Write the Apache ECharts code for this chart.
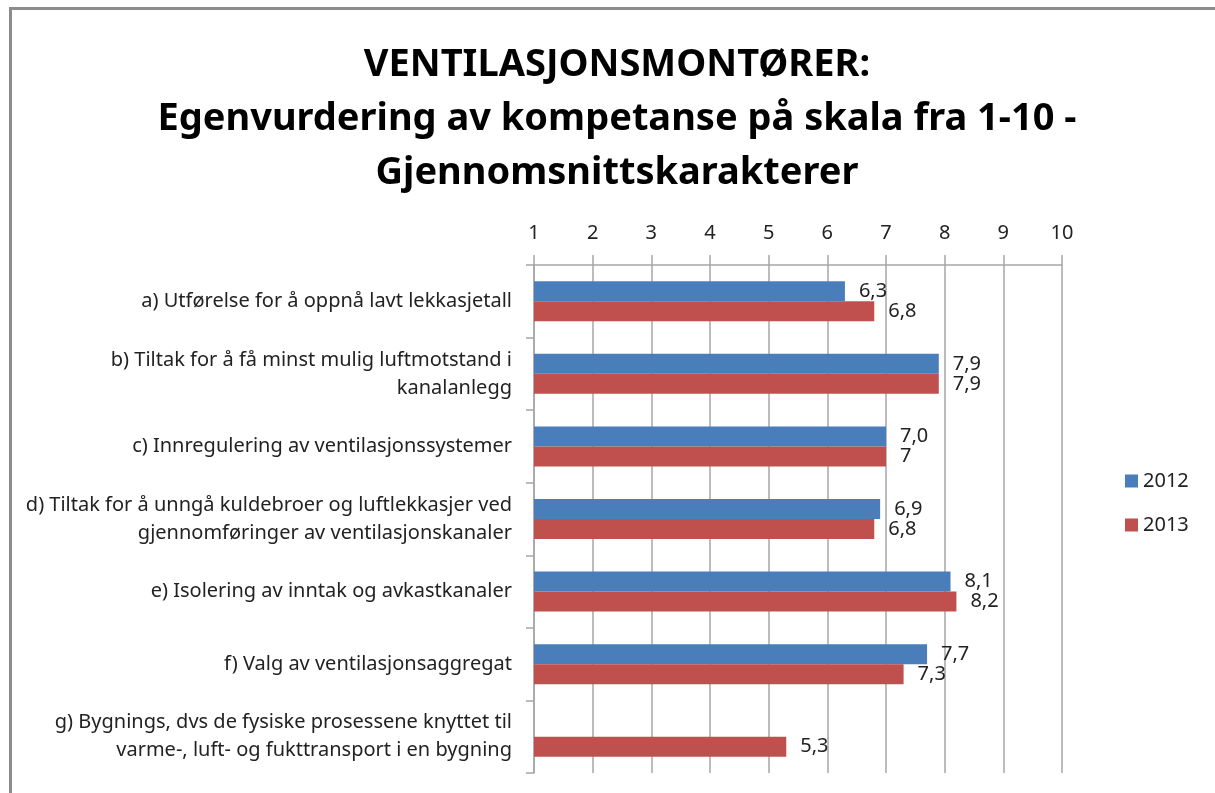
<!DOCTYPE html>
<html>
<head>
<meta charset="utf-8">
<script src="https://cdn.jsdelivr.net/npm/echarts@6/dist/echarts.min.js"></script>
<style>
  html, body { margin: 0; padding: 0; background: #fff; }
  #chart { width: 1215px; height: 793px; }
  .frame { position: absolute; left: 9px; top: 7px; width: 1215px; height: 800px;
    border-left: 3px solid #8c8c8c; border-top: 3px solid #8c8c8c; pointer-events: none; }
</style>
</head>
<body>
<div id="chart"></div>
<div class="frame"></div>
<script>
const categories = [
  'a) Utførelse for å oppnå lavt lekkasjetall',
  'b) Tiltak for å få minst mulig luftmotstand i\nkanalanlegg',
  'c) Innregulering av ventilasjonssystemer',
  'd) Tiltak for å unngå kuldebroer og luftlekkasjer ved\ngjennomføringer av ventilasjonskanaler',
  'e) Isolering av inntak og avkastkanaler',
  'f) Valg av ventilasjonsaggregat',
  'g) Bygnings, dvs de fysiske prosessene knyttet til\nvarme-, luft- og fukttransport i en bygning'
]
const values2012 = [6.3, 7.9, 7.0, 6.9, 8.1, 7.7, null]
const values2013 = [6.8, 7.9, 7, 6.8, 8.2, 7.3, 5.3]
const labels2012 = ['6,3', '7,9', '7,0', '6,9', '8,1', '7,7', '']
const labels2013 = ['6,8', '7,9', '7', '6,8', '8,2', '7,3', '5,3']
const xTicks = [1, 2, 3, 4, 5, 6, 7, 8, 9, 10]

const font = 'Noto Sans, sans-serif'
const chart = echarts.init(document.getElementById('chart'))

const option = {
  animation: false,
  backgroundColor: '#fff',
  title: {
    text: 'VENTILASJONSMONTØRER:\nEgenvurdering av kompetanse på skala fra 1-10 -\nGjennomsnittskarakterer',
    left: 612,
    textAlign: 'center',
    top: 33,
    textStyle: {
      fontFamily: 'Noto Sans, sans-serif',
      fontSize: 38,
      fontWeight: 'bold',
      color: '#000',
      lineHeight: 54
    }
  },
  legend: {
    orient: 'vertical',
    left: 1120,
    top: 466,
    itemWidth: 13,
    itemHeight: 13,
    itemGap: 24,
    icon: 'rect',
    textStyle: { fontFamily: font, fontSize: 20, color: '#222' },
    data: ['2012', '2013']
  },
  grid: { left: 534, right: 153, top: 265, bottom: 20 },
  xAxis: {
    type: 'value',
    position: 'top',
    min: 1,
    max: 10,
    interval: 1,
    axisLine: { show: true, lineStyle: { color: '#a6a6a6', width: 1.5 } },
    axisTick: { show: true, length: 10, inside: false, lineStyle: { color: '#a6a6a6', width: 1.5 } },
    splitLine: { show: true, lineStyle: { color: '#a6a6a6', width: 1.5 } },
    axisLabel: {
      fontFamily: font, fontSize: 20, color: '#222', margin: 22,
      formatter: v => xTicks.includes(v) ? String(v) : ''
    }
  },
  yAxis: {
    type: 'category',
    inverse: true,
    data: categories,
    axisLine: { show: true, lineStyle: { color: '#a6a6a6', width: 1.5 } },
    axisTick: { show: true, length: 8, lineStyle: { color: '#a6a6a6', width: 1.5 } },
    axisLabel: {
      fontFamily: font, fontSize: 20, color: '#222', margin: 22,
      align: 'right', lineHeight: 28
    }
  },
  series: [
    {
      name: '2012',
      type: 'bar',
      data: values2012,
      barWidth: 20,
      barGap: '0%',
      itemStyle: { color: '#4a7ebb' },
      label: {
        show: true, position: 'right', distance: 14,
        fontFamily: font, fontSize: 20, color: '#222',
        formatter: p => labels2012[p.dataIndex]
      }
    },
    {
      name: '2013',
      type: 'bar',
      data: values2013,
      barWidth: 20,
      barGap: '0%',
      itemStyle: { color: '#c0504d' },
      label: {
        show: true, position: 'right', distance: 14,
        fontFamily: font, fontSize: 20, color: '#222',
        formatter: p => labels2013[p.dataIndex]
      }
    }
  ]
}

chart.setOption(option)
</script>
</body>
</html>
